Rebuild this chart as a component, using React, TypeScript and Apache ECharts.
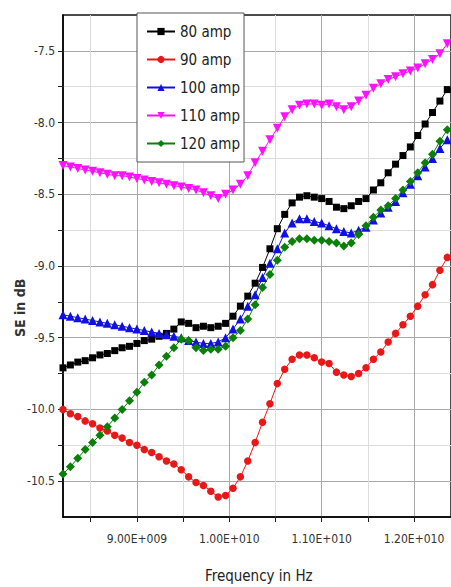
import React, { useEffect, useRef } from "react";
import * as echarts from "echarts";

// Frequency in GHz (axis labels shown in Hz E-notation)
const frequencyGHz = [
  8.2, 8.28, 8.36, 8.44, 8.52, 8.6, 8.68, 8.76, 8.84, 8.92,
  9.0, 9.08, 9.16, 9.24, 9.32, 9.4, 9.48, 9.56, 9.64, 9.72,
  9.8, 9.88, 9.96, 10.04, 10.12, 10.2, 10.28, 10.36, 10.44, 10.52,
  10.6, 10.68, 10.76, 10.84, 10.92, 11.0, 11.08, 11.16, 11.24, 11.32,
  11.4, 11.48, 11.56, 11.64, 11.72, 11.8, 11.88, 11.96, 12.04, 12.12,
  12.2, 12.28, 12.36,
];

const amp80 = [
  -9.71, -9.69, -9.67, -9.66, -9.64, -9.62, -9.61, -9.59, -9.57, -9.56,
  -9.54, -9.52, -9.51, -9.49, -9.47, -9.44, -9.39, -9.4, -9.43, -9.42,
  -9.43, -9.42, -9.4, -9.35, -9.28, -9.21, -9.12, -9.01, -8.88, -8.74,
  -8.64, -8.56, -8.52, -8.51, -8.52, -8.53, -8.55, -8.59, -8.6, -8.58,
  -8.55, -8.53, -8.47, -8.42, -8.35, -8.29, -8.23, -8.17, -8.09, -8.01,
  -7.93, -7.85, -7.77,
];

const amp90 = [
  -10.0, -10.03, -10.05, -10.08, -10.1, -10.13, -10.15, -10.18, -10.2, -10.23,
  -10.25, -10.28, -10.3, -10.33, -10.36, -10.38, -10.42, -10.47, -10.51, -10.53,
  -10.57, -10.61, -10.6, -10.55, -10.47, -10.36, -10.23, -10.09, -9.96, -9.82,
  -9.72, -9.65, -9.62, -9.62, -9.64, -9.67, -9.68, -9.74, -9.76, -9.77,
  -9.75, -9.71, -9.65, -9.6, -9.53, -9.47, -9.41, -9.35, -9.28, -9.2,
  -9.13, -9.03, -8.94,
];

const amp100 = [
  -9.34, -9.35, -9.36, -9.37, -9.38, -9.39, -9.4, -9.41, -9.42, -9.43,
  -9.44, -9.45, -9.46, -9.47, -9.48, -9.49, -9.5, -9.52, -9.53, -9.54,
  -9.54, -9.53, -9.5, -9.44, -9.37, -9.28, -9.2, -9.08, -8.98, -8.88,
  -8.77, -8.7, -8.67, -8.67, -8.69, -8.7, -8.72, -8.74, -8.76, -8.77,
  -8.75, -8.73, -8.68, -8.63, -8.59, -8.55, -8.49, -8.43, -8.37, -8.31,
  -8.25, -8.18, -8.12,
];

const amp110 = [
  -8.3, -8.31, -8.32, -8.33, -8.34, -8.35, -8.36, -8.37, -8.37, -8.38,
  -8.39, -8.4, -8.41, -8.42, -8.43, -8.44, -8.45, -8.46, -8.47, -8.49,
  -8.51, -8.53, -8.5, -8.47, -8.43, -8.37, -8.28, -8.2, -8.12, -8.04,
  -7.96, -7.91, -7.88, -7.87, -7.87, -7.88, -7.87, -7.89, -7.91, -7.89,
  -7.85, -7.81, -7.76, -7.73, -7.7, -7.68, -7.66, -7.64, -7.62, -7.59,
  -7.56, -7.52, -7.45,
];

const amp120 = [
  -10.45, -10.4, -10.34, -10.28, -10.23, -10.18, -10.12, -10.06, -10.0, -9.94,
  -9.88, -9.81, -9.76, -9.69, -9.63, -9.57, -9.51, -9.52, -9.57, -9.59,
  -9.58, -9.58, -9.56, -9.5, -9.45, -9.37, -9.27, -9.15, -9.06, -8.96,
  -8.87, -8.83, -8.81, -8.81, -8.82, -8.82, -8.83, -8.84, -8.86, -8.84,
  -8.78, -8.72, -8.66, -8.61, -8.58, -8.53, -8.47, -8.41, -8.35, -8.28,
  -8.22, -8.13, -8.05,
];

const seriesNames = ["80 amp", "90 amp", "100 amp", "110 amp", "120 amp"];
const xTickValues = [8.5, 9.0, 9.5, 10.0, 10.5, 11.0, 11.5, 12.0];
const xLabelValues = [9.0, 10.0, 11.0, 12.0];
const yTickValues = [
  -10.5, -10.25, -10.0, -9.75, -9.5, -9.25, -9.0, -8.75, -8.5, -8.25, -8.0, -7.75, -7.5,
];
const yLabelValues = [-10.5, -10.0, -9.5, -9.0, -8.5, -8.0, -7.5];

const FONT = "'DejaVu Sans Condensed', 'Liberation Sans Narrow', 'Liberation Sans', sans-serif";

export default function App() {
  const ref = useRef<HTMLDivElement>(null);
  useEffect(() => {
    if (!ref.current) return;
    const chart = echarts.init(ref.current, undefined, { renderer: "svg" });
    const pair = (ys: number[]) => frequencyGHz.map((f, i) => [f, ys[i]]);
    const mk = (
      name: string,
      ys: number[],
      color: string,
      symbol: string,
      size: number,
      rotate = 0
    ) => ({
      name,
      type: "line",
      data: pair(ys),
      symbol,
      symbolSize: size,
      symbolRotate: rotate,
      showAllSymbol: true,
      itemStyle: { color },
      lineStyle: { color, width: 1 },
      clip: true,
    });
    chart.setOption({
      animation: false,
      backgroundColor: "#fff",
      grid: {
        left: 63,
        top: 15,
        right: -5,
        bottom: 70,
        show: true,
        borderColor: "#111",
        borderWidth: 1.5,
        backgroundColor: "#fff",
      },
      legend: {
        data: seriesNames,
        orient: "vertical",
        left: 137,
        top: 13,
        itemWidth: 28,
        itemHeight: 9,
        itemGap: 13,
        padding: [11, 4, 11, 9],
        backgroundColor: "#fff",
        borderColor: "#555",
        borderWidth: 1,
        textStyle: { fontSize: 15, color: "#222", fontFamily: FONT },
      },
      xAxis: {
        type: "value",
        min: 8.2,
        max: 12.4,
        axisLine: { show: true, onZero: false, lineStyle: { color: "#000", width: 1.5 } },
        axisTick: {
          show: true,
          customValues: xTickValues,
          length: 5,
          lineStyle: { color: "#222" },
        },
        axisLabel: {
          customValues: xLabelValues,
          formatter: (v: number) =>
            v < 10 ? v.toFixed(2) + "E+009" : (v / 10).toFixed(2) + "E+010",
          fontSize: 12,
          color: "#333",
          fontFamily: FONT,
          margin: 16,
        },
        splitLine: { show: true, lineStyle: { color: ["#dcdcdc", "#a8a8a8"], width: 1 } },
      },
      yAxis: {
        type: "value",
        min: -10.75,
        max: -7.25,
        axisLine: { show: true, onZero: false, lineStyle: { color: "#000", width: 1.5 } },
        axisTick: {
          show: true,
          customValues: yTickValues,
          length: 5,
          lineStyle: { color: "#222" },
        },
        axisLabel: {
          customValues: yLabelValues,
          formatter: (v: number) => v.toFixed(1),
          fontSize: 12,
          color: "#333",
          fontFamily: FONT,
          margin: 8,
        },
        splitLine: { show: true, lineStyle: { color: ["#a8a8a8", "#dcdcdc"], width: 1 } },
      },
      graphic: [
        {
          type: "text",
          left: 205,
          top: 568,
          style: { text: "Frequency in Hz", fontSize: 15, fill: "#222", fontFamily: FONT },
        },
        {
          type: "text",
          x: 13,
          y: 337,
          rotation: Math.PI / 2,
          style: {
            text: "SE in dB",
            fontSize: 14,
            fontWeight: "bold",
            fill: "#333",
            fontFamily: FONT,
          },
        },
      ],
      series: [
        mk(seriesNames[0], amp80, "#000000", "rect", 7),
        mk(seriesNames[1], amp90, "#e81818", "circle", 7.5),
        mk(seriesNames[2], amp100, "#1010e0", "triangle", 9),
        mk(seriesNames[3], amp110, "#ff10ff", "triangle", 9, 180),
        mk(seriesNames[4], amp120, "#0a800a", "diamond", 9),
      ],
    });
    return () => chart.dispose();
  }, []);
  return (
    <div
      ref={ref}
      style={{ position: "fixed", left: 0, top: 0, width: 451, height: 587 }}
    />
  );
}
